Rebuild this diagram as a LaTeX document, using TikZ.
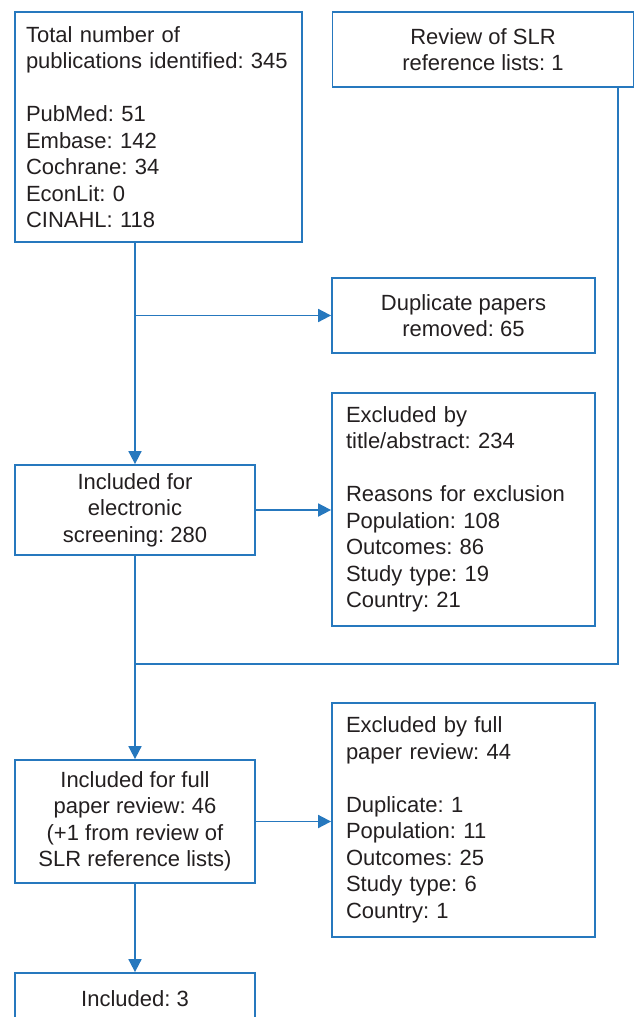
\documentclass[tikz,border=0pt]{standalone}
\usepackage{fontspec}
\setmainfont{Liberation Sans}
\usetikzlibrary{arrows.meta}
\definecolor{flow}{RGB}{38,120,190}
\definecolor{ink}{RGB}{35,31,32}
\frenchspacing
\begin{document}
\begin{tikzpicture}[x=1pt,y=-1pt,
  box/.style={draw=flow,line width=1.8pt,rectangle,inner sep=0pt,text=ink,
    font=\fontsize{22}{26.5}\selectfont\frenchspacing},
  lbox/.style={box,align=left},
  cbox/.style={box,align=center},
  link/.style={draw=flow,line width=1.8pt},
  arr/.style={link,-{Triangle[length=13pt,width=13pt]}}]
\useasboundingbox (0,0) rectangle (634,1017);
\clip (0,0) rectangle (634,1017);
\node[lbox,minimum width=287pt,minimum height=230pt,text width=265pt] (b1) at (158.5,127)
  {Total number of\\publications identified: 345\\[26.5pt]PubMed: 51\\Embase: 142\\Cochrane: 34\\EconLit: 0\\CINAHL: 118};
\node[cbox,minimum width=301pt,minimum height=75pt] (b2) at (483,49.5)
  {Review of SLR\\reference lists: 1};
\node[cbox,minimum width=263pt,minimum height=75pt] (b3) at (463.5,315.5)
  {Duplicate papers\\removed: 65};
\node[cbox,minimum width=240pt,minimum height=90pt] (b4) at (135,510)
  {Included for\\electronic\\screening: 280};
\node[lbox,minimum width=263pt,minimum height=233pt,text width=235pt] (b5) at (463.5,509.5)
  {Excluded by\\title/abstract: 234\\[26.5pt]Reasons for exclusion\\Population: 108\\Outcomes: 86\\Study type: 19\\Country: 21};
\node[cbox,minimum width=240pt,minimum height=123pt] (b6) at (135,821.5)
  {Included for full\\paper review: 46\\(+1 from review of\\SLR reference lists)};
\node[lbox,minimum width=263pt,minimum height=234pt,text width=235pt] (b7) at (463.5,820)
  {Excluded by full\\paper review: 44\\[26.5pt]Duplicate: 1\\Population: 11\\Outcomes: 25\\Study type: 6\\Country: 1};
\node[cbox,minimum width=240pt,minimum height=52pt] (b8) at (135,999)
  {Included: 3};
\coordinate (corner) at (618,664);
\coordinate (join) at (135,664);
\draw[arr] (b1.south -| b4.north) -- (b4.north);
\draw[arr] (b4.north |- b3.west) -- (b3.west);
\draw[arr] (b4.east) -- (b4.east -| b5.west);
\draw[arr] (b4.south) -- (b6.north);
\draw[link] (b2.south -| corner) -- (corner) -- (join);
\draw[arr] (b6.east) -- (b6.east -| b7.west);
\draw[arr] (b6.south) -- (b8.north);
\end{tikzpicture}
\end{document}
